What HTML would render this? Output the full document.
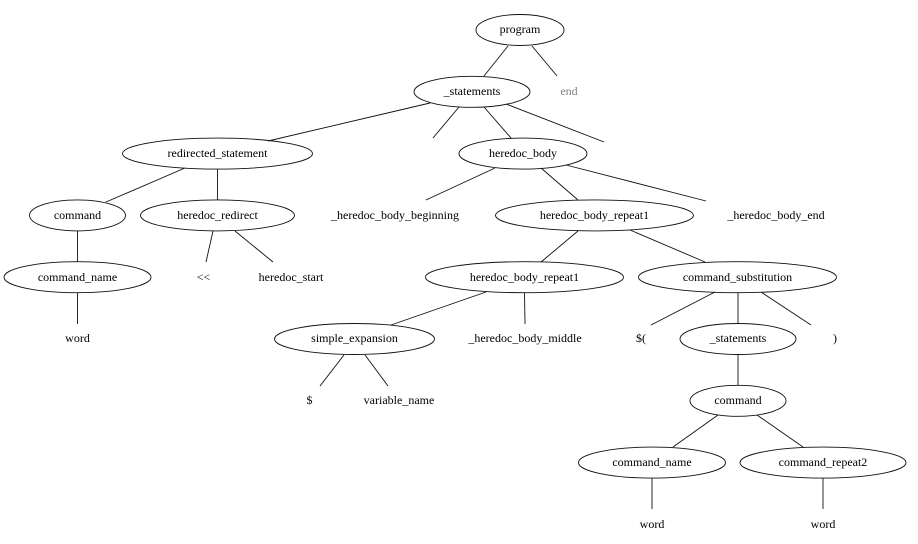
<!DOCTYPE html>
<html><head><meta charset="utf-8"><style>
html,body{margin:0;padding:0;background:#fff}
svg{display:block}
text{font-family:"Liberation Serif",serif;font-size:12px;text-anchor:middle;fill:#000}
ellipse{fill:none;stroke:#111;stroke-width:0.9}
line{stroke:#111;stroke-width:0.9}
</style></head><body>
<svg width="918" height="544" viewBox="0 0 918 544" xmlns="http://www.w3.org/2000/svg">
<ellipse cx="520" cy="30" rx="44" ry="15.5"/><text x="520" y="33">program</text>
<ellipse cx="472" cy="91.8" rx="58" ry="15.5"/><text x="472" y="95">_statements</text>
<text x="569" y="95" style="fill:#808080">end</text>
<ellipse cx="217.5" cy="153.6" rx="95" ry="15.5"/><text x="217.5" y="157">redirected_statement</text>
<ellipse cx="523" cy="153.6" rx="64" ry="15.5"/><text x="523" y="157">heredoc_body</text>
<ellipse cx="77.5" cy="215.4" rx="48" ry="15.5"/><text x="77.5" y="219">command</text>
<ellipse cx="217.5" cy="215.4" rx="77" ry="15.5"/><text x="217.5" y="219">heredoc_redirect</text>
<text x="395" y="219">_heredoc_body_beginning</text>
<ellipse cx="594.5" cy="215.4" rx="99" ry="15.5"/><text x="594.5" y="219">heredoc_body_repeat1</text>
<text x="776" y="219">_heredoc_body_end</text>
<ellipse cx="77.5" cy="277.2" rx="73.5" ry="15.5"/><text x="77.5" y="281">command_name</text>
<text x="203.5" y="281">&lt;&lt;</text>
<text x="291" y="281">heredoc_start</text>
<ellipse cx="524.5" cy="277.2" rx="99" ry="15.5"/><text x="524.5" y="281">heredoc_body_repeat1</text>
<ellipse cx="737.5" cy="277.2" rx="99" ry="15.5"/><text x="737.5" y="281">command_substitution</text>
<text x="77.5" y="342">word</text>
<ellipse cx="354.5" cy="339" rx="80" ry="15.5"/><text x="354.5" y="342">simple_expansion</text>
<text x="525" y="342">_heredoc_body_middle</text>
<text x="641" y="342">$(</text>
<ellipse cx="738" cy="339" rx="58" ry="15.5"/><text x="738" y="342">_statements</text>
<text x="835" y="342">)</text>
<text x="309.5" y="404">$</text>
<text x="399" y="404">variable_name</text>
<ellipse cx="738" cy="400.8" rx="48" ry="15.5"/><text x="738" y="404">command</text>
<ellipse cx="652" cy="462.6" rx="73.5" ry="15.5"/><text x="652" y="466">command_name</text>
<ellipse cx="823" cy="462.6" rx="83" ry="15.5"/><text x="823" y="466">command_repeat2</text>
<text x="652" y="528">word</text>
<text x="823" y="528">word</text>
<line x1="508" y1="46" x2="484" y2="76"/>
<line x1="532" y1="46" x2="557" y2="76"/>
<line x1="430" y1="103" x2="268" y2="141"/>
<line x1="459" y1="107" x2="433" y2="138"/>
<line x1="484" y1="107" x2="511" y2="138"/>
<line x1="506" y1="104" x2="604" y2="142"/>
<line x1="495" y1="168" x2="426" y2="200"/>
<line x1="541" y1="168" x2="578" y2="200"/>
<line x1="566" y1="165" x2="706" y2="201"/>
<line x1="185" y1="168" x2="106" y2="202"/>
<line x1="217.5" y1="169" x2="217.5" y2="200"/>
<line x1="213" y1="231" x2="206" y2="262"/>
<line x1="235" y1="231" x2="273" y2="262"/>
<line x1="77.5" y1="231" x2="77.5" y2="262"/>
<line x1="77.5" y1="293" x2="77.5" y2="324"/>
<line x1="578" y1="231" x2="541" y2="262"/>
<line x1="630" y1="230" x2="705" y2="262"/>
<line x1="486" y1="292" x2="391" y2="325"/>
<line x1="524.5" y1="293" x2="525" y2="324"/>
<line x1="715" y1="292" x2="651" y2="325"/>
<line x1="738" y1="293" x2="738" y2="324"/>
<line x1="761" y1="292" x2="811" y2="325"/>
<line x1="344" y1="355" x2="320" y2="386"/>
<line x1="365" y1="355" x2="388" y2="386"/>
<line x1="738" y1="355" x2="738" y2="385"/>
<line x1="718" y1="415" x2="673" y2="447"/>
<line x1="757" y1="415" x2="803" y2="447"/>
<line x1="652" y1="478" x2="652" y2="509"/>
<line x1="823" y1="478" x2="823" y2="509"/>
</svg>
</body></html>
